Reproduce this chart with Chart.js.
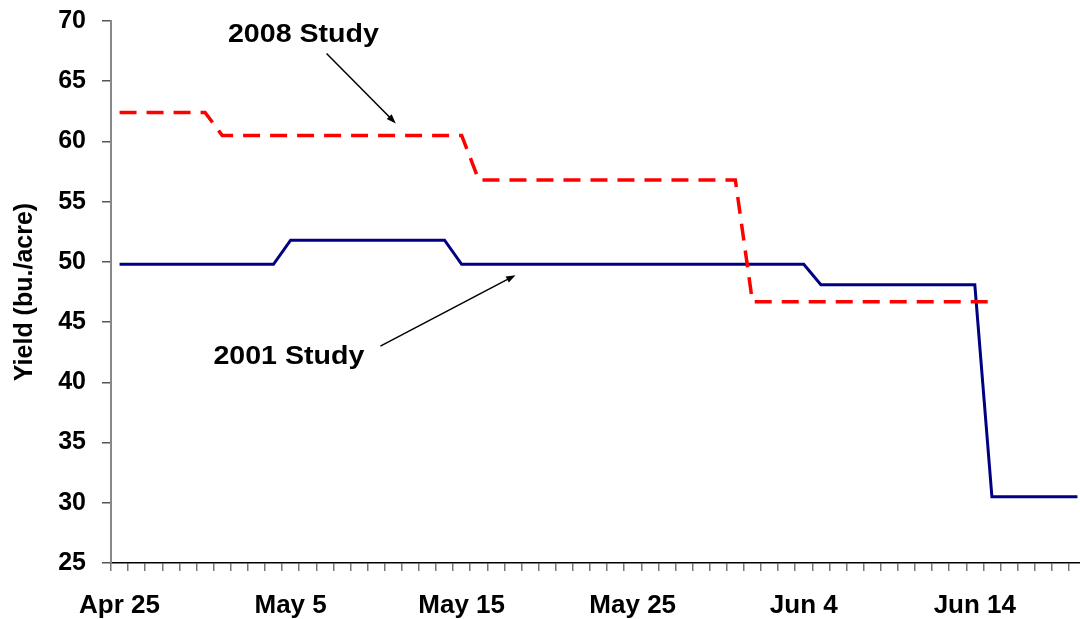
<!DOCTYPE html>
<html>
<head>
<meta charset="utf-8">
<script src="https://cdn.jsdelivr.net/npm/chart.js@4"></script>
<style>
  html, body { margin: 0; padding: 0; background: #fff; overflow: hidden; }
  #wrap { width: 1080px; height: 619px; overflow: hidden; }
</style>
</head>
<body>
<div id="wrap"><canvas id="yieldChart" width="1100" height="619"></canvas></div>
<script>
// planting dates, one per day
const dates = [
  'Apr 25', 'Apr 26', 'Apr 27', 'Apr 28', 'Apr 29', 'Apr 30',
  'May 1', 'May 2', 'May 3', 'May 4', 'May 5', 'May 6', 'May 7', 'May 8', 'May 9', 'May 10',
  'May 11', 'May 12', 'May 13', 'May 14', 'May 15', 'May 16', 'May 17', 'May 18', 'May 19', 'May 20',
  'May 21', 'May 22', 'May 23', 'May 24', 'May 25', 'May 26', 'May 27', 'May 28', 'May 29', 'May 30', 'May 31',
  'Jun 1', 'Jun 2', 'Jun 3', 'Jun 4', 'Jun 5', 'Jun 6', 'Jun 7', 'Jun 8', 'Jun 9', 'Jun 10',
  'Jun 11', 'Jun 12', 'Jun 13', 'Jun 14', 'Jun 15', 'Jun 16', 'Jun 17', 'Jun 18', 'Jun 19', 'Jun 20'
];

const study2008 = [
  62.4, 62.4, 62.4, 62.4, 62.4, 62.4,
  60.5, 60.5, 60.5, 60.5, 60.5, 60.5, 60.5, 60.5, 60.5, 60.5, 60.5, 60.5, 60.5, 60.5, 60.5,
  56.8, 56.8, 56.8, 56.8, 56.8, 56.8, 56.8, 56.8, 56.8, 56.8, 56.8, 56.8, 56.8, 56.8, 56.8, 56.8,
  46.7, 46.7, 46.7, 46.7, 46.7, 46.7, 46.7, 46.7, 46.7, 46.7, 46.7, 46.7, 46.7, 46.7, 46.7,
  null, null, null, null, null
];

const study2001 = [
  49.8, 49.8, 49.8, 49.8, 49.8, 49.8, 49.8, 49.8, 49.8, 49.8,
  51.8, 51.8, 51.8, 51.8, 51.8, 51.8, 51.8, 51.8, 51.8, 51.8,
  49.8, 49.8, 49.8, 49.8, 49.8, 49.8, 49.8, 49.8, 49.8, 49.8, 49.8,
  49.8, 49.8, 49.8, 49.8, 49.8, 49.8, 49.8, 49.8, 49.8, 49.8,
  48.1, 48.1, 48.1, 48.1, 48.1, 48.1, 48.1, 48.1, 48.1, 48.1,
  30.5, 30.5, 30.5, 30.5, 30.5, 30.5
];

// callouts in data space: x = day index, y = yield
const callouts = [
  { text: '2008 Study', x: 10.75, y: 68.85, from: [12.1, 67.3], to: [16.15, 61.5] },
  { text: '2001 Study', x: 9.9, y: 42.1, from: [15.25, 43.0], to: [23.15, 48.9] }
];

const fontFamily = '"Liberation Sans", Arial, sans-serif';

const calloutPlugin = {
  id: 'callouts',
  afterDatasetsDraw(chart) {
    const ctx = chart.ctx;
    const xs = chart.scales.x;
    const ys = chart.scales.y;
    ctx.save();
    callouts.forEach(c => {
      // label, a little stretched like the source
      ctx.save();
      ctx.translate(xs.getPixelForValue(c.x), ys.getPixelForValue(c.y));
      ctx.scale(1.1, 1);
      ctx.font = 'bold 26px ' + fontFamily;
      ctx.fillStyle = '#000';
      ctx.textAlign = 'center';
      ctx.textBaseline = 'middle';
      ctx.fillText(c.text, 0, 0);
      ctx.restore();

      // arrow
      const x1 = xs.getPixelForValue(c.from[0]), y1 = ys.getPixelForValue(c.from[1]);
      const x2 = xs.getPixelForValue(c.to[0]), y2 = ys.getPixelForValue(c.to[1]);
      const ang = Math.atan2(y2 - y1, x2 - x1);
      const head = 10;
      ctx.strokeStyle = '#000';
      ctx.fillStyle = '#000';
      ctx.lineWidth = 1.5;
      ctx.beginPath();
      ctx.moveTo(x1, y1);
      ctx.lineTo(x2 - Math.cos(ang) * head * 0.8, y2 - Math.sin(ang) * head * 0.8);
      ctx.stroke();
      ctx.beginPath();
      ctx.moveTo(x2, y2);
      ctx.lineTo(x2 - head * Math.cos(ang - 0.35), y2 - head * Math.sin(ang - 0.35));
      ctx.lineTo(x2 - head * Math.cos(ang + 0.35), y2 - head * Math.sin(ang + 0.35));
      ctx.closePath();
      ctx.fill();
    });
    ctx.restore();
  }
};

new Chart(document.getElementById('yieldChart'), {
  type: 'line',
  data: {
    labels: dates,
    datasets: [
      {
        label: '2008 Study',
        data: study2008,
        borderColor: '#FF0000',
        borderWidth: 3.5,
        borderDash: [17, 10],
        pointRadius: 0,
        tension: 0,
        fill: false
      },
      {
        label: '2001 Study',
        data: study2001,
        borderColor: '#000080',
        borderWidth: 3,
        pointRadius: 0,
        tension: 0,
        fill: false
      }
    ]
  },
  options: {
    responsive: false,
    animation: false,
    layout: { padding: { top: 20, right: 14, left: 0, bottom: 0 } },
    plugins: {
      legend: { display: false },
      tooltip: { enabled: false }
    },
    scales: {
      x: {
        type: 'category',
        offset: true,
        afterFit(scale) { scale.height = 56; },
        grid: {
          offset: true,
          drawOnChartArea: false,
          drawTicks: true,
          tickLength: 8,
          color: '#777',
          lineWidth: 1.5
        },
        border: { color: '#000', width: 1.5 },
        ticks: {
          autoSkip: false,
          maxRotation: 0,
          minRotation: 0,
          padding: 19,
          color: '#000',
          font: { family: fontFamily, size: 26, weight: 'bold' },
          callback: (v, i) => (i % 10 === 0 ? dates[i] : '')
        }
      },
      y: {
        min: 25,
        max: 70,
        afterFit(scale) { scale.width = 111; },
        grid: {
          drawOnChartArea: false,
          drawTicks: true,
          tickLength: 9,
          color: '#555',
          lineWidth: 1.5
        },
        border: { color: '#888', width: 2 },
        ticks: {
          stepSize: 5,
          padding: 16,
          color: '#000',
          font: { family: fontFamily, size: 25, weight: 'bold', lineHeight: 0.4 }
        },
        title: {
          display: true,
          text: 'Yield (bu./acre)',
          color: '#000',
          padding: { top: 10, bottom: 0 },
          font: { family: fontFamily, size: 25, weight: 'bold' }
        }
      }
    }
  },
  plugins: [calloutPlugin]
});
</script>
</body>
</html>
